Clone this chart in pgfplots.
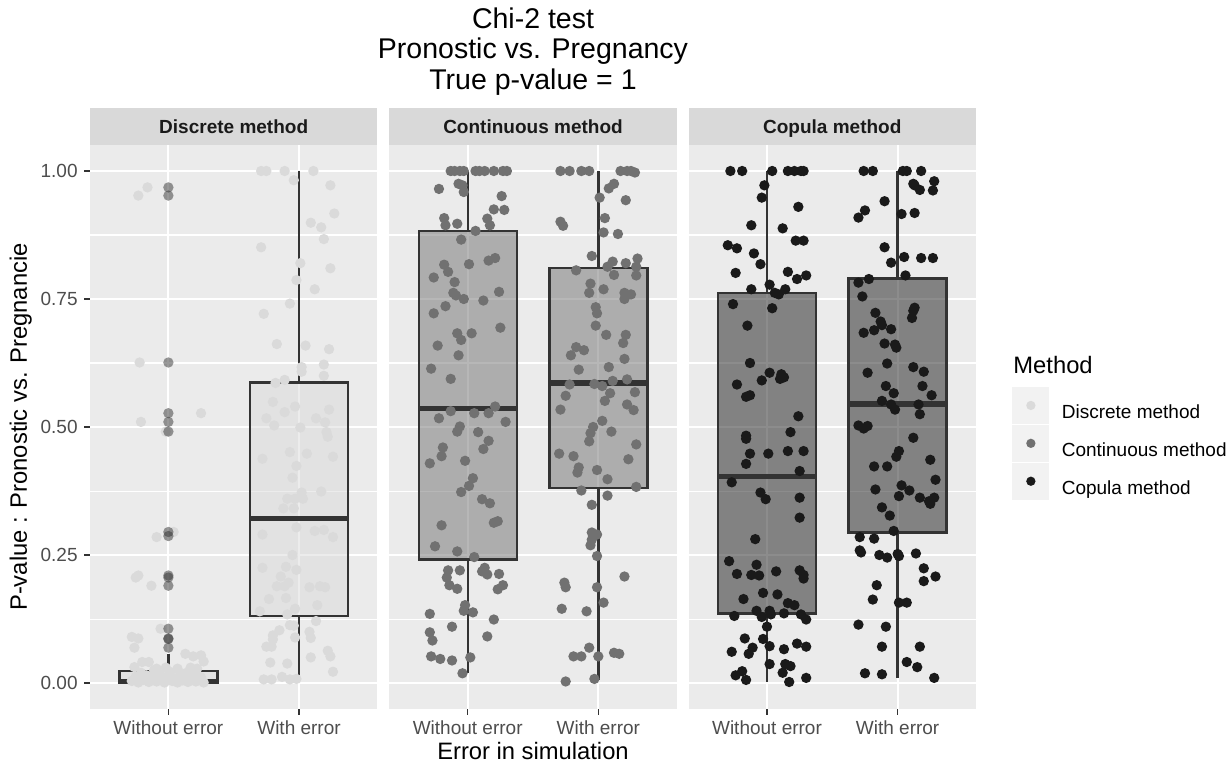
\documentclass[border=0pt]{standalone}
\usepackage{pgfplots}
\pgfplotsset{compat=1.18}
\usepgfplotslibrary{statistics}
\usepackage{fontspec}
\setmainfont{Liberation Sans}

\definecolor{panelbg}{HTML}{EBEBEB}
\definecolor{stripbg}{HTML}{D9D9D9}
\definecolor{keybg}{HTML}{F2F2F2}
\definecolor{boxc}{HTML}{333333}
\definecolor{tickc}{HTML}{4D4D4D}
\definecolor{stripc}{HTML}{1A1A1A}
\definecolor{discc}{HTML}{DADADA}
\definecolor{contc}{HTML}{717171}
\definecolor{copc}{HTML}{1A1A1A}

\pgfplotsset{
  panel/.style={
    scale only axis, width=133.07pt, height=260.76pt, anchor=south west,
    xmin=0.4, xmax=2.6, ymin=-0.05, ymax=1.05,
    axis background/.style={fill=panelbg},
    axis line style={draw=none},
    xtick={1,2}, xticklabels={Without error, With error},
    ytick={0,0.25,0.5,0.75,1}, minor ytick={0.125,0.375,0.625,0.875},
    grid=both,
    major grid style={white, line width=0.95pt},
    minor grid style={white, line width=0.47pt},
    tick align=outside, xtick pos=bottom, ytick pos=left,
    major tick length=2.75pt, minor tick length=0pt,
    tick style={boxc, line width=0.5pt},
    ticklabel style={font=\fontsize{8.8}{10}\selectfont, text=tickc, inner sep=0pt},
    xticklabel shift=2.78pt, yticklabel shift=2.78pt,
  },
  pts/.style={only marks, mark=*, mark size=2.4pt, color=#1,
    mark options={fill=#1, draw opacity=0}, forget plot},
  bxs/.style={forget plot, draw=boxc, line width=1.1pt,
    boxplot/draw direction=y,
    boxplot/box extend=0.75, boxplot/whisker extend=0,
    boxplot/every box/.style={fill=#1, fill opacity=0.5},
    boxplot/draw/median/.code={%
      \draw[line width=2.4pt]
        (boxplot box cs:\pgfplotsboxplotvalue{median},0) --
        (boxplot box cs:\pgfplotsboxplotvalue{median},1);}},
}

\begin{document}
\begin{tikzpicture}

% ---------- Discrete method ----------
\begin{axis}[panel, at={(41.67pt,-328.08pt)},
  yticklabels={0.00,0.25,0.50,0.75,1.00}]
\addplot[pts=discc] table {
x y
0.77 0.952
0.84 0.968
0.78 0.626
0.79 0.510
1.25 0.527
0.98 0.491
0.91 0.285
1.04 0.295
0.75 0.206
0.77 0.210
0.87 0.190
0.94 0.106
0.72 0.090
0.77 0.087
0.74 0.069
1.13 0.057
1.19 0.052
1.25 0.054
1.27 0.042
0.74 0.031
0.80 0.041
0.85 0.041
0.91 0.028
0.98 0.030
1.07 0.028
1.17 0.030
1.22 0.028
0.72 0.004
0.75 0.012
0.77 0.001
0.79 0.020
0.81 0.006
0.83 0.015
0.85 0.002
0.87 0.010
0.89 0.025
0.91 0.003
0.93 0.017
0.95 0.007
0.97 0.001
0.99 0.012
1.01 0.022
1.03 0.004
1.05 0.009
1.07 0.001
1.09 0.014
1.11 0.005
1.13 0.019
1.15 0.002
1.17 0.008
1.19 0.013
1.21 0.003
1.23 0.006
1.25 0.011
1.27 0.001
};
\addplot[pts=discc] table {
x y
1.71 1.000
1.75 1.000
1.89 1.000
2.11 1.000
1.96 0.982
2.24 0.972
2.27 0.917
2.09 0.899
2.17 0.890
2.19 0.867
1.71 0.851
2.01 0.820
2.24 0.810
1.98 0.787
2.12 0.769
1.93 0.741
1.73 0.721
1.83 0.662
2.05 0.659
2.23 0.652
2.02 0.617
2.02 0.608
2.19 0.622
2.19 0.600
1.82 0.586
1.89 0.592
1.80 0.549
1.97 0.540
1.89 0.529
2.23 0.534
1.75 0.517
1.81 0.503
2.01 0.499
2.13 0.517
2.20 0.509
2.21 0.490
2.22 0.481
1.72 0.438
1.93 0.451
2.06 0.448
2.26 0.442
1.98 0.424
1.95 0.401
2.02 0.372
1.97 0.360
2.03 0.360
1.91 0.360
2.17 0.374
1.88 0.341
1.96 0.341
1.98 0.304
2.12 0.297
2.19 0.299
1.72 0.290
2.26 0.285
1.95 0.250
1.72 0.225
1.90 0.227
1.98 0.221
1.86 0.208
1.92 0.196
1.89 0.189
1.83 0.189
2.08 0.187
2.16 0.189
2.20 0.187
1.77 0.164
1.90 0.166
2.14 0.152
1.70 0.140
1.91 0.134
1.97 0.145
2.13 0.121
1.93 0.113
1.96 0.112
1.85 0.103
2.08 0.100
2.09 0.088
1.80 0.093
1.80 0.085
1.97 0.089
1.75 0.071
1.79 0.071
2.22 0.063
2.24 0.052
1.78 0.040
1.91 0.038
2.09 0.050
2.26 0.022
1.73 0.007
1.79 0.007
1.87 0.012
1.93 0.007
1.98 0.008
};
\addplot[bxs=discc, boxplot prepared={draw position=1, lower whisker=0,
  lower quartile=0, median=0.003, upper quartile=0.024, upper whisker=0.056}] coordinates {};
\addplot[only marks, mark=*, mark size=2.4pt, forget plot, color=boxc,
  mark options={fill=boxc, fill opacity=0.5, draw opacity=0}] table {
x y
1 0.968
1 0.952
1 0.626
1 0.527
1 0.510
1 0.491
1 0.295
1 0.287
1 0.210
1 0.206
1 0.190
1 0.106
1 0.087
1 0.086
1 0.069
};
\addplot[bxs=discc, boxplot prepared={draw position=2, lower whisker=0.007,
  lower quartile=0.131, median=0.322, upper quartile=0.587, upper whisker=1.0}] coordinates {};
\end{axis}

% ---------- Continuous method ----------
\begin{axis}[panel, at={(180.25pt,-328.08pt)},
  yticklabels={}, ytick style={draw=none}]
\addplot[pts=contc] table {
x y
0.87 1.000
0.90 1.000
0.94 1.000
0.97 1.000
1.06 1.000
1.09 1.000
1.13 1.000
1.20 1.000
1.27 1.000
1.30 1.000
0.93 0.975
0.96 0.972
0.78 0.965
0.97 0.959
1.26 0.951
1.20 0.925
1.28 0.924
0.82 0.908
0.83 0.894
0.92 0.897
1.15 0.907
1.17 0.894
1.06 0.883
0.95 0.866
1.21 0.830
1.16 0.825
1.01 0.818
0.82 0.817
0.85 0.803
0.74 0.792
0.90 0.783
0.89 0.762
0.91 0.757
0.97 0.750
1.12 0.747
1.24 0.764
0.83 0.736
0.74 0.722
0.92 0.683
0.95 0.670
1.03 0.683
1.25 0.694
0.77 0.659
0.93 0.640
0.72 0.614
0.87 0.594
1.21 0.540
0.87 0.531
1.05 0.527
1.16 0.527
0.78 0.517
1.29 0.510
0.94 0.501
0.92 0.491
1.08 0.490
1.16 0.473
0.81 0.460
0.80 0.443
1.12 0.457
0.71 0.429
0.98 0.434
1.04 0.400
1.01 0.385
0.95 0.373
1.11 0.359
1.17 0.351
0.80 0.308
1.20 0.313
1.23 0.316
0.75 0.267
0.92 0.257
1.05 0.246
0.85 0.220
0.94 0.220
1.13 0.225
1.11 0.218
1.15 0.212
1.24 0.213
0.84 0.206
0.86 0.191
0.92 0.184
1.27 0.191
1.23 0.183
0.98 0.152
0.97 0.141
1.04 0.138
0.71 0.135
1.20 0.124
0.88 0.110
0.71 0.099
0.73 0.083
1.15 0.091
0.72 0.052
0.79 0.047
0.88 0.044
1.02 0.050
0.96 0.019
};
\addplot[pts=contc] table {
x y
1.71 1.000
1.78 1.000
1.87 1.000
1.93 1.000
2.17 1.000
2.22 1.000
2.25 1.000
2.28 0.997
2.08 0.966
2.12 0.975
2.01 0.948
2.21 0.943
2.05 0.908
1.71 0.901
1.73 0.893
2.04 0.880
2.15 0.877
1.95 0.834
2.30 0.829
2.11 0.823
2.07 0.813
2.21 0.820
2.29 0.813
2.29 0.796
1.83 0.806
2.12 0.797
1.94 0.780
1.93 0.762
2.04 0.769
2.20 0.762
2.20 0.750
2.25 0.759
1.98 0.734
1.99 0.722
1.98 0.698
2.06 0.680
2.21 0.680
2.19 0.664
1.83 0.656
1.79 0.640
1.89 0.650
2.20 0.633
1.85 0.612
2.08 0.617
2.11 0.590
2.03 0.580
2.09 0.566
1.78 0.583
1.97 0.584
2.22 0.593
1.75 0.561
2.28 0.568
2.05 0.551
1.71 0.534
2.27 0.533
2.22 0.544
2.03 0.512
1.96 0.500
1.94 0.488
1.93 0.472
2.10 0.491
2.29 0.466
1.70 0.448
1.81 0.443
2.23 0.437
1.85 0.421
1.84 0.411
1.99 0.416
2.07 0.398
1.87 0.376
2.29 0.383
2.07 0.366
1.95 0.348
1.95 0.294
1.99 0.290
1.95 0.280
1.94 0.269
1.99 0.248
2.20 0.208
1.74 0.196
1.75 0.187
1.99 0.187
2.04 0.157
1.72 0.145
1.91 0.140
1.93 0.069
1.81 0.052
1.87 0.052
2.00 0.052
2.12 0.059
2.16 0.057
1.75 0.003
1.97 0.008
};
\addplot[bxs=contc, boxplot prepared={draw position=1, lower whisker=0.019,
  lower quartile=0.241, median=0.536, upper quartile=0.883, upper whisker=1.0}] coordinates {};
\addplot[bxs=contc, boxplot prepared={draw position=2, lower whisker=0.005,
  lower quartile=0.381, median=0.586, upper quartile=0.811, upper whisker=1.0}] coordinates {};
\end{axis}

% ---------- Copula method ----------
\begin{axis}[panel, at={(318.82pt,-328.08pt)},
  yticklabels={}, ytick style={draw=none},
  legend cell align=left,
  legend style={at={(1.125,0.5719)}, anchor=north west, draw=none, fill=none,
    inner sep=0pt, outer sep=0pt, row sep=0pt, column sep=5.56pt,
    nodes={inner sep=0pt}, font=\fontsize{8.8}{10}\selectfont},
  legend image code/.code={%
    \path[fill=keybg, draw opacity=0] (0pt,-4.87pt) rectangle (17.13pt,12.27pt);
    \path[fill, draw opacity=0] (8.565pt,3.7pt) circle (2.15pt);}]
\addlegendimage{fill=discc}
\addlegendentry{Discrete method}
\addlegendimage{fill=contc}
\addlegendentry{Continuous method}
\addlegendimage{fill=copc}
\addlegendentry{Copula method}
\addplot[pts=copc] table {
x y
0.72 1.000
0.81 1.000
1.04 1.000
1.16 1.000
1.21 1.000
1.26 1.000
1.28 1.000
0.98 0.972
0.96 0.948
1.24 0.930
0.88 0.894
1.12 0.888
0.70 0.855
0.77 0.849
1.22 0.864
1.28 0.864
0.90 0.839
0.95 0.818
0.76 0.801
1.16 0.803
1.23 0.789
1.30 0.796
1.02 0.778
0.88 0.769
1.14 0.769
1.06 0.762
1.09 0.759
0.74 0.740
1.04 0.732
0.85 0.698
0.87 0.625
1.02 0.606
0.96 0.591
1.11 0.603
1.10 0.594
1.13 0.597
0.77 0.583
0.84 0.559
0.87 0.562
1.24 0.521
1.18 0.490
0.84 0.483
0.84 0.477
0.87 0.448
1.01 0.448
1.16 0.453
1.28 0.453
0.84 0.428
1.25 0.414
0.73 0.392
0.95 0.372
0.99 0.359
1.25 0.362
1.25 0.323
0.91 0.281
0.71 0.238
0.77 0.213
0.92 0.231
0.88 0.211
0.94 0.210
1.07 0.218
1.25 0.220
1.28 0.211
1.28 0.204
0.82 0.164
0.97 0.176
1.08 0.173
1.16 0.156
1.21 0.152
0.75 0.131
0.92 0.141
0.96 0.129
1.02 0.141
1.03 0.134
1.13 0.136
1.26 0.134
1.30 0.124
1.00 0.110
0.83 0.087
0.97 0.086
0.73 0.061
0.86 0.057
0.89 0.069
1.02 0.072
1.13 0.066
1.23 0.077
1.30 0.071
1.02 0.037
1.14 0.037
1.18 0.033
0.81 0.023
0.76 0.015
0.84 0.006
1.12 0.020
1.17 0.002
1.30 0.010
};
\addplot[pts=copc] table {
x y
1.74 1.000
1.81 1.000
2.04 1.000
2.07 1.000
2.18 1.000
2.28 0.980
2.12 0.975
2.13 0.972
2.17 0.963
2.27 0.962
1.90 0.941
2.03 0.916
1.75 0.923
1.70 0.909
2.13 0.918
1.90 0.851
1.95 0.821
2.05 0.832
2.18 0.830
2.27 0.830
2.06 0.796
1.70 0.782
1.78 0.789
1.73 0.755
1.83 0.723
1.87 0.706
1.88 0.699
1.95 0.691
1.74 0.684
1.82 0.689
2.13 0.733
2.12 0.727
2.11 0.713
1.90 0.663
1.98 0.661
1.99 0.655
1.92 0.624
1.77 0.606
2.12 0.617
2.20 0.608
1.91 0.580
1.97 0.566
2.19 0.580
2.26 0.562
1.88 0.551
1.95 0.544
1.98 0.534
2.16 0.544
2.17 0.525
1.70 0.503
1.74 0.497
1.77 0.502
2.12 0.479
2.01 0.453
1.99 0.442
1.82 0.423
1.92 0.423
2.25 0.436
2.29 0.397
1.83 0.378
2.03 0.386
2.09 0.376
2.01 0.365
2.17 0.362
2.25 0.350
2.28 0.362
2.24 0.355
1.88 0.343
1.94 0.327
1.97 0.297
1.71 0.285
1.82 0.282
1.71 0.259
1.72 0.255
1.86 0.250
1.92 0.245
2.00 0.252
2.01 0.248
2.14 0.253
2.20 0.224
2.20 0.199
2.29 0.208
1.84 0.191
1.81 0.163
2.01 0.157
2.07 0.157
1.70 0.114
1.91 0.110
1.88 0.071
2.17 0.071
2.07 0.041
2.15 0.031
1.75 0.019
1.88 0.017
2.28 0.010
};
\addplot[bxs=copc, boxplot prepared={draw position=1, lower whisker=0.002,
  lower quartile=0.136, median=0.403, upper quartile=0.762, upper whisker=1.0}] coordinates {};
\addplot[bxs=copc, boxplot prepared={draw position=2, lower whisker=0.010,
  lower quartile=0.294, median=0.545, upper quartile=0.790, upper whisker=1.0}] coordinates {};
\end{axis}

% ---------- titles, strips, labels (pixel-like units) ----------
\begin{scope}[x=0.463pt, y=-0.463pt]
\path (0,0) rectangle (1231,763);
\begin{scope}[font=\fontsize{13.2}{15}\selectfont]
\node[anchor=base] at (533,28) {Chi-2 test};
\node[anchor=base] at (533,58) {Pronostic vs. Pregnancy};
\node[anchor=base] at (533,89) {True p-value = 1};
\end{scope}
\fill[stripbg] (90,108) rectangle (377.4,145.4);
\fill[stripbg] (389.3,108) rectangle (676.7,145.4);
\fill[stripbg] (688.6,108) rectangle (976,145.4);
\begin{scope}[font=\fontsize{8.8}{10}\selectfont\bfseries, text=stripc]
\node[anchor=base] at (233.7,133.5) {Discrete method};
\node[anchor=base] at (533,133.5) {Continuous method};
\node[anchor=base] at (832.3,133.5) {Copula method};
\end{scope}
\node[anchor=base, font=\fontsize{11}{13}\selectfont] at (533,759) {Error in simulation};
\node[anchor=base, rotate=90, font=\fontsize{11}{13}\selectfont] at (27,427) {P-value : Pronostic vs. Pregnancie};
\node[anchor=base west, inner sep=0pt, font=\fontsize{11}{13}\selectfont] at (1013,373) {Method};
\end{scope}
\end{tikzpicture}
\end{document}
